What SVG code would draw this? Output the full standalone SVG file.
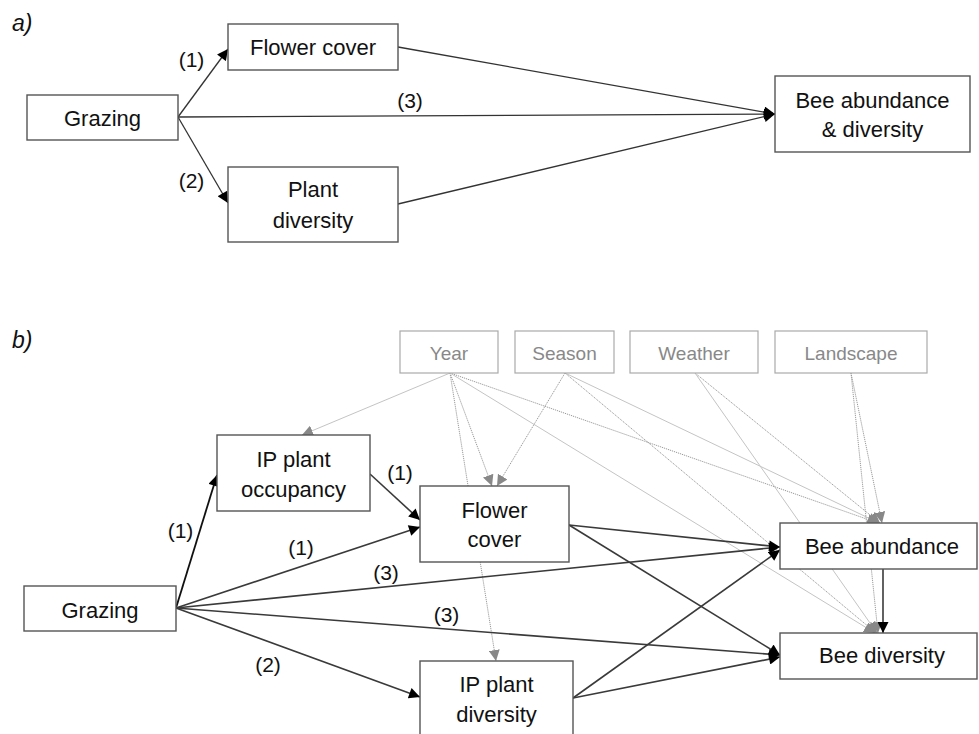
<svg xmlns="http://www.w3.org/2000/svg" width="979" height="734" viewBox="0 0 979 734">
<style>
  .box{fill:#fff;stroke:#555;stroke-width:1.4}
  .cbox{fill:#fff;stroke:#aaa;stroke-width:1.2}
  .t{font-family:"Liberation Sans",Arial,sans-serif;font-size:22px;fill:#111;text-anchor:middle}
  .ct{font-family:"Liberation Sans",Arial,sans-serif;font-size:19px;fill:#888;text-anchor:middle}
  .lab{font-family:"Liberation Sans",Arial,sans-serif;font-size:21px;fill:#111;text-anchor:middle}
  .pl{font-family:"Liberation Sans",Arial,sans-serif;font-size:23px;font-style:italic;fill:#111}
  .a{fill:none;stroke:#333;stroke-width:1.3;marker-end:url(#ah)}
  .b{fill:none;stroke:#3a3a3a;stroke-width:1.6;marker-end:url(#ah)}
  .gs{fill:none;stroke:#c4c4c4;stroke-width:1;marker-end:url(#gh)}
  .gd{fill:none;stroke:#9a9a9a;stroke-width:1;stroke-dasharray:1.2 0.9;marker-end:url(#gh)}
</style>
<defs>
  <marker id="ah" viewBox="0 0 10 10" refX="10" refY="5" markerUnits="userSpaceOnUse" markerWidth="12" markerHeight="11" orient="auto">
    <path d="M0,0 L10,5 L0,10 z" fill="#000"/>
  </marker>
  <marker id="gh" viewBox="0 0 10 10" refX="10" refY="5" markerUnits="userSpaceOnUse" markerWidth="11" markerHeight="11" orient="auto">
    <path d="M0,0 L10,5 L0,10 z" fill="#888"/>
  </marker>
</defs>

<text class="pl" x="12" y="31">a)</text>
<text class="pl" x="12" y="348">b)</text>

<g id="connectors">
  <!-- part a -->
  <path class="a" d="M178,117 L228,49"/>
  <path class="a" d="M178,117 L228,203"/>
  <path class="a" d="M178,117 L775,114"/>
  <path class="a" d="M398,47 L775,114"/>
  <path class="a" d="M398,204 L775,114"/>
  <!-- part b covariates -->
  <path class="gs" d="M450,373 L302,435"/>
  <path class="gd" d="M450,373 L496,661"/>
  <path class="gd" d="M450,373 L492,486"/>
  <path class="gd" d="M450,373 L878,523"/>
  <path class="gs" d="M450,373 L875,633"/>
  <path class="gd" d="M565,373 L497,486"/>
  <path class="gs" d="M565,373 L879,523"/>
  <path class="gd" d="M565,373 L876,633"/>
  <path class="gd" d="M695,373 L880,523"/>
  <path class="gs" d="M695,373 L877,633"/>
  <path class="gd" d="M851,373 L882,523"/>
  <path class="gd" d="M851,373 L878,633"/>
  <!-- part b main -->
  <path class="b" d="M176,608 L217,475" style="stroke:#111;stroke-width:1.8"/>
  <path class="b" d="M370,474 L420,520"/>
  <path class="b" d="M176,608 L420,527"/>
  <path class="b" d="M176,608 L780,547"/>
  <path class="b" d="M176,608 L780,655"/>
  <path class="b" d="M176,608 L420,697"/>
  <path class="b" d="M569,525 L780,547"/>
  <path class="b" d="M569,525 L780,655"/>
  <path class="b" d="M573,698 L780,550"/>
  <path class="b" d="M573,698 L780,657"/>
  <path class="b" d="M883,569 L883,633"/>
</g>

<g id="labels">
  <text class="lab" x="191.5" y="67">(1)</text>
  <text class="lab" x="191.5" y="188">(2)</text>
  <text class="lab" x="410" y="108">(3)</text>
  <text class="lab" x="180.5" y="538">(1)</text>
  <text class="lab" x="400" y="480">(1)</text>
  <text class="lab" x="301" y="555">(1)</text>
  <text class="lab" x="386" y="580">(3)</text>
  <text class="lab" x="446.5" y="622">(3)</text>
  <text class="lab" x="268" y="672">(2)</text>
</g>

<g id="a-grazing"><rect class="box" x="27" y="95" width="151" height="45"/><text class="t" x="102.5" y="126">Grazing</text></g>
<g id="a-flower"><rect class="box" x="228" y="24" width="170" height="46"/><text class="t" x="313" y="55">Flower cover</text></g>
<g id="a-plant"><rect class="box" x="228" y="167" width="170" height="75"/><text class="t" x="313" y="197">Plant</text><text class="t" x="313" y="228">diversity</text></g>
<g id="a-bee"><rect class="box" x="775" y="76" width="195" height="76"/><text class="t" x="872.5" y="108">Bee abundance</text><text class="t" x="872.5" y="137">&amp; diversity</text></g>

<g id="b-year"><rect class="cbox" x="400" y="331" width="98" height="42"/><text class="ct" x="449" y="360">Year</text></g>
<g id="b-season"><rect class="cbox" x="515" y="331" width="99" height="42"/><text class="ct" x="564.5" y="360">Season</text></g>
<g id="b-weather"><rect class="cbox" x="630" y="331" width="128" height="42"/><text class="ct" x="694" y="360">Weather</text></g>
<g id="b-landscape"><rect class="cbox" x="775" y="331" width="152" height="42"/><text class="ct" x="851" y="360">Landscape</text></g>

<g id="b-ipocc"><rect class="box" x="217" y="435" width="153" height="76"/><text class="t" x="293.5" y="467">IP plant</text><text class="t" x="293.5" y="497">occupancy</text></g>
<g id="b-grazing"><rect class="box" x="24" y="586" width="152" height="45"/><text class="t" x="100" y="618">Grazing</text></g>
<g id="b-flower"><rect class="box" x="420" y="486" width="149" height="76"/><text class="t" x="494.5" y="518">Flower</text><text class="t" x="494.5" y="547">cover</text></g>
<g id="b-ipdiv"><rect class="box" x="420" y="661" width="153" height="90"/><text class="t" x="496.5" y="692">IP plant</text><text class="t" x="496.5" y="722">diversity</text></g>
<g id="b-beeab"><rect class="box" x="780" y="523" width="197" height="46"/><text class="t" x="882" y="554">Bee abundance</text></g>
<g id="b-beediv"><rect class="box" x="780" y="633" width="197" height="46"/><text class="t" x="882" y="663">Bee diversity</text></g>
</svg>
